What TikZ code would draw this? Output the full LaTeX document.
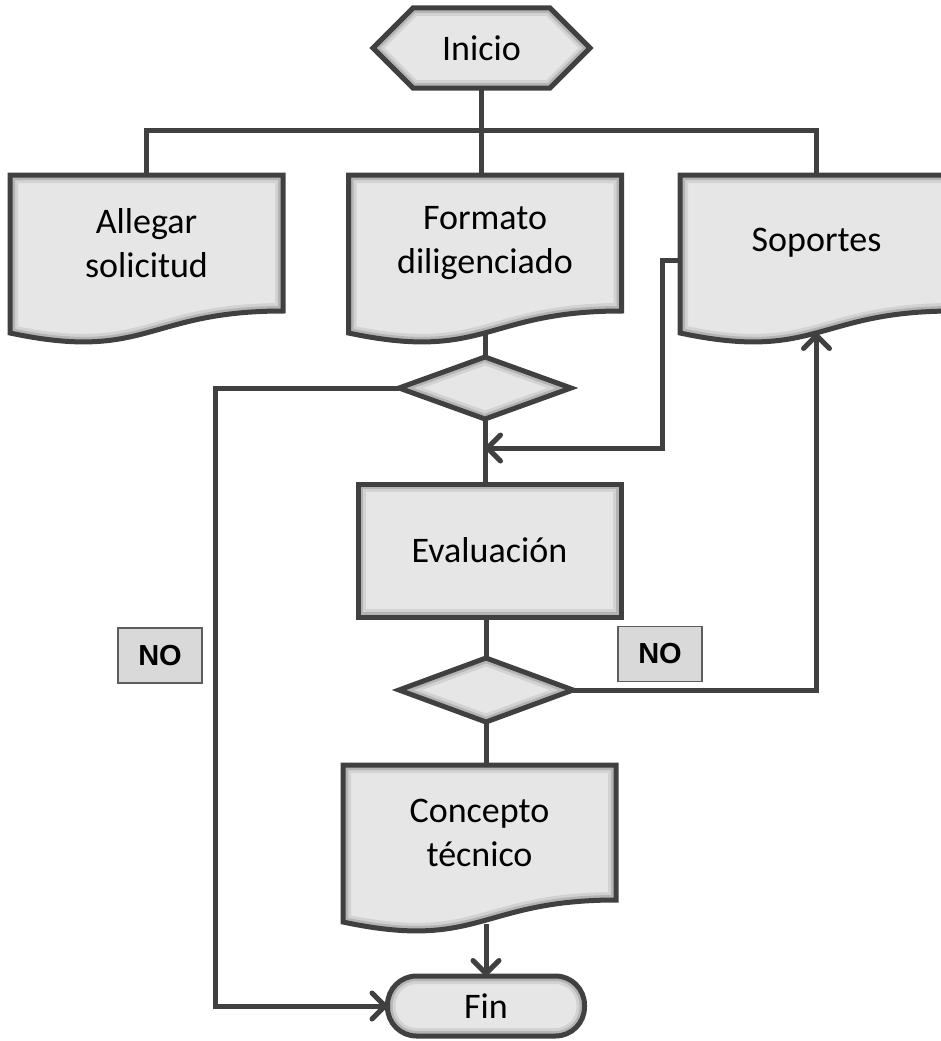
\documentclass[tikz,border=0pt]{standalone}
\usepackage{fontspec}
\setmainfont{Carlito}
\newfontfamily\nofont{Liberation Sans}
\usetikzlibrary{arrows.meta,calc}
\definecolor{edge}{HTML}{404040}
\definecolor{shapefill}{HTML}{E6E6E6}
\definecolor{rimA}{HTML}{D2D2D2}
\definecolor{rimB}{HTML}{B4B4B4}
\definecolor{nofill}{HTML}{D9D9D9}
\pgfdeclarelayer{shapes}
\pgfsetlayers{shapes,main}
\tikzset{
  holder/.style 2 args={rectangle, inner sep=0pt, outer sep=0pt,
    minimum width=#1, minimum height=#2,
    font=\fontsize{36}{44}\selectfont, align=center, text=black},
  conn/.style={draw=edge, line width=5pt},
  arr/.style={conn, -{Straight Barb[length=13pt,width=26pt,round]}},
  nobox/.style={draw=edge!85, line width=1.5pt, fill=nofill,
    minimum width=84pt, minimum height=55pt, inner sep=0pt,
    font=\nofont\bfseries\fontsize{29}{29}\selectfont},
}
% beveled shape: #1 extra options, #2 path
\newcommand\bevelshape[2][]{%
  \path[fill=shapefill,#1] #2;
  \begin{scope}
    \clip[#1] #2;
    \draw[line width=16pt, draw=rimA, #1] #2;
    \draw[line width=10pt, draw=rimB, #1] #2;
  \end{scope}
  \draw[draw=edge, line width=5pt, line join=miter, #1] #2;}
\newcommand\docpath[1]{%
  \bevelshape{(#1.north west) -- (#1.north east) -- (#1.south east)
    .. controls (#1.south) and ([yshift=-51pt]#1.south) ..
    ([yshift=-22pt]#1.south west) -- cycle}}
\begin{document}
\begin{tikzpicture}[x=1pt,y=-1pt]
\useasboundingbox (0,0) rectangle (940,1041);
\clip (0,0) rectangle (940,1041);

% nodes
\node[holder={217pt}{80pt}] (inicio) at (481.5,48) {Inicio};
\node[holder={273pt}{136pt}] (allegar) at (146.5,243) {Allegar\\solicitud};
\node[holder={273pt}{136pt}] (formato) at (485,243) {Formato\\diligenciado};
\node[holder={273pt}{136pt}] (soportes) at (816.5,243) {Soportes};
\node[holder={172pt}{62pt}] (d1) at (485,388) {};
\node[holder={263pt}{133pt}] (eval) at (489.5,550.5) {Evaluación};
\node[holder={174pt}{64pt}] (d2) at (486,690) {};
\node[holder={273pt}{135pt}] (concepto) at (479.5,832.5) {Concepto\\técnico};
\node[holder={197pt}{60pt}] (fin) at (486,1006) {Fin};
\node[nobox] (no1) at (160,655.5) {NO};
\node[nobox] (no2) at (660,654) {NO};
\coordinate (join) at (485,448);

% connectors under the shapes
\begin{pgfonlayer}{shapes}
\draw[conn] (inicio.south) -- (inicio.south |- formato.north);
\draw[conn] (allegar.north) -- ++(0,-45) -| (soportes.north);
\end{pgfonlayer}

% shapes
\begin{pgfonlayer}{shapes}
\bevelshape{(inicio.west) -- ([xshift=40pt]inicio.north west)
  -- ([xshift=-40pt]inicio.north east) -- (inicio.east)
  -- ([xshift=-40pt]inicio.south east) -- ([xshift=40pt]inicio.south west) -- cycle}
\docpath{allegar}
\docpath{formato}
\docpath{soportes}
\docpath{concepto}
\bevelshape{(d1.north) -- (d1.east) -- (d1.south) -- (d1.west) -- cycle}
\bevelshape{(d2.north) -- (d2.east) -- (d2.south) -- (d2.west) -- cycle}
\bevelshape{(eval.north west) rectangle (eval.south east)}
\bevelshape[rounded corners=29pt]{(fin.north west) rectangle (fin.south east)}
\end{pgfonlayer}

% connectors
\draw[conn] ([yshift=-22pt]formato.south) -- (d1.north);
\draw[conn] (d1.south) -- (d1.south |- eval.north);
\draw[arr] ([yshift=-17pt]soportes.west) -- ++(-18,0) |- (join);
\draw[conn] (d2.north |- eval.south) -- (d2.north);
\draw[conn] (d2.south) -- (d2.south |- concepto.north);
\draw[arr] ([yshift=-24pt]concepto.south -| fin.north) -- (fin.north);
\draw[arr] (d2.east) -| ([yshift=-22pt]soportes.south);
\draw[arr] (d1.west) -- ++(-184,0) |- (fin.west);
\end{tikzpicture}
\end{document}
